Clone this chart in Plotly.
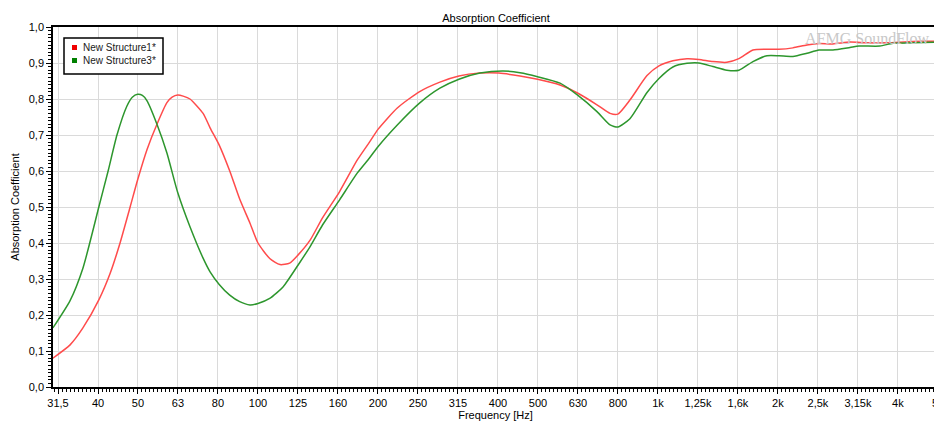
import numpy as np
import plotly.graph_objects as go

# ---------------- data ----------------
freq_s1 = [30.7, 33.9, 36.5, 40, 42.7, 45.2, 47.9, 50, 52.8, 55.9, 59.2, 61, 63, 65, 67.6, 72.9, 75.9, 80,
           85, 90, 95.5, 100, 107, 113.5, 120, 126, 135, 145, 160, 177, 190, 200, 223, 253, 285,
           318, 359, 400, 452, 500, 569, 631, 704, 759, 794, 851, 939, 1006, 1090, 1182, 1266,
           1372, 1487, 1594, 1728, 1873, 2007, 2175, 2358, 2527, 2738, 3020, 3331, 3737, 4340, 5012]
vals_s1 = [0.08, 0.117, 0.164, 0.242, 0.316, 0.40, 0.50, 0.575, 0.66, 0.73, 0.79, 0.805, 0.811, 0.808, 0.80, 0.76,
           0.72, 0.672, 0.60, 0.522, 0.455, 0.40, 0.357, 0.34, 0.344, 0.367, 0.408, 0.47, 0.543,
           0.63, 0.68, 0.717, 0.775, 0.82, 0.847, 0.864, 0.872, 0.872, 0.864, 0.855, 0.839, 0.816,
           0.784, 0.76, 0.758, 0.797, 0.865, 0.892, 0.906, 0.912, 0.91, 0.904, 0.902, 0.912, 0.936,
           0.938, 0.938, 0.942, 0.95, 0.954, 0.953, 0.958, 0.956, 0.956, 0.96, 0.96]

freq_s3 = [30.7, 33.9, 36.5, 40, 42.2, 44.4, 47.0, 48.5, 50, 51.4, 52.8, 55.9, 59.2, 63, 67.6, 72.9, 75.9, 80,
           85, 90, 95.5, 100, 107, 115.5, 126, 135, 145, 160, 177, 190, 200, 223, 253, 285, 318,
           359, 410, 452, 500, 569, 631, 704, 759, 794, 851, 939, 1006, 1090, 1182, 1266, 1372,
           1487, 1594, 1728, 1873, 2007, 2175, 2358, 2527, 2738, 3020, 3181, 3589, 3868, 4340, 5012]
vals_s3 = [0.164, 0.24, 0.33, 0.50, 0.60, 0.70, 0.78, 0.805, 0.813, 0.81, 0.795, 0.73, 0.65, 0.54, 0.445, 0.358,
           0.32, 0.285, 0.255, 0.237, 0.228, 0.232, 0.246, 0.278, 0.339, 0.39, 0.45, 0.52, 0.594,
           0.636, 0.669, 0.728, 0.788, 0.83, 0.855, 0.872, 0.878, 0.873, 0.862, 0.844, 0.81, 0.765,
           0.728, 0.722, 0.745, 0.818, 0.857, 0.889, 0.899, 0.9, 0.89, 0.88, 0.88, 0.904, 0.92,
           0.92, 0.918, 0.927, 0.936, 0.936, 0.943, 0.947, 0.947, 0.955, 0.956, 0.958]

series_names = ["New Structure1*", "New Structure3*"]

band_labels = ["31,5", "40", "50", "63", "80", "100", "125", "160", "200", "250", "315", "400",
               "500", "630", "800", "1k", "1,25k", "1,6k", "2k", "2,5k", "3,15k", "4k", "5k"]
# log10 of the nominal 1/3-octave band centres
band_exponents = [round(1.5 + 0.1 * i, 3) for i in range(len(band_labels))]

# ---------------- figure ----------------
RED = "rgb(255,75,75)"
GREEN = "rgb(45,150,45)"
FONT = "Liberation Sans, Arial, sans-serif"

fig = go.Figure()
fig.add_trace(go.Scatter(x=np.log10(freq_s1), y=vals_s1, mode="lines", name=series_names[0],
                         line=dict(color=RED, width=1.5, shape="spline", smoothing=0.6),
                         showlegend=False))
fig.add_trace(go.Scatter(x=np.log10(freq_s3), y=vals_s3, mode="lines", name=series_names[1],
                         line=dict(color=GREEN, width=1.5, shape="spline", smoothing=0.6),
                         showlegend=False))

OFF = 8                      # the page body has an 8px default margin
W, H = 942 - OFF, 421 - OFF
L, R, T, B = 53 - OFF, 4, 27 - OFF, 34
pw, ph = W - L - R, H - T - B

def px(xp):                  # page pixel x -> paper
    return (xp - OFF - L) / pw

def py(yp):                  # page pixel y -> paper
    return (T + ph - (yp - OFF)) / ph

shapes = [
    dict(type="rect", xref="paper", yref="paper", x0=px(64), x1=px(163), y0=py(74), y1=py(38),
         line=dict(color="black", width=1.5), fillcolor="white", layer="above"),
    dict(type="rect", xref="paper", yref="paper", x0=px(72), x1=px(77), y0=py(50), y1=py(45),
         line=dict(width=0), fillcolor="rgb(240,0,0)", layer="above"),
    dict(type="rect", xref="paper", yref="paper", x0=px(72), x1=px(77), y0=py(63), y1=py(58),
         line=dict(width=0), fillcolor="rgb(0,128,0)", layer="above"),
]

annotations = [
    dict(text=series_names[0], xref="paper", yref="paper", x=px(81), y=py(47.5), xanchor="left",
         yanchor="middle", showarrow=False, font=dict(family=FONT, size=10, color="#1a1a1a")),
    dict(text=series_names[1], xref="paper", yref="paper", x=px(81), y=py(60.5), xanchor="left",
         yanchor="middle", showarrow=False, font=dict(family=FONT, size=10, color="#1a1a1a")),
    dict(text="AFMG SoundFlow", xref="paper", yref="paper", x=px(867), y=py(39), xanchor="center",
         yanchor="middle", showarrow=False,
         font=dict(family="Liberation Serif, Times New Roman, serif", size=16, color="rgb(200,200,200)")),
]

fig.update_layout(
    width=W, height=H,
    margin=dict(l=L, r=R, t=T, b=B, autoexpand=False),
    paper_bgcolor="white", plot_bgcolor="white",
    separators=", ",
    title=dict(text="Absorption Coefficient", x=px(496), xanchor="center", xref="paper",
               y=1 - (18 - OFF) / H, yanchor="middle", yref="container",
               font=dict(family=FONT, size=11, color="black")),
    shapes=shapes, annotations=annotations,
    showlegend=False,
)

fig.update_xaxes(
    range=[1.4875, 3.7002], tickmode="array", tickvals=band_exponents, ticktext=band_labels,
    ticklabeloverflow="allow",
    showgrid=True, gridcolor="rgb(218,218,218)", gridwidth=1, zeroline=False,
    showline=True, linecolor="black", linewidth=1.5, mirror=True,
    ticks="outside", ticklen=5, tickcolor="black", tickwidth=1,
    minor=dict(dtick=0.01, tick0=1.5, ticks="outside", ticklen=3, tickcolor="black", showgrid=False),
    tickfont=dict(family=FONT, size=11, color="black"),
    title=dict(text="Frequency [Hz]", standoff=0, font=dict(family=FONT, size=11, color="black")),
    automargin=False,
)
fig.update_yaxes(
    range=[0, 1], tickmode="linear", tick0=0, dtick=0.1, tickformat=".1f",
    showgrid=True, gridcolor="rgb(218,218,218)", gridwidth=1, zeroline=False,
    showline=True, linecolor="black", linewidth=1.5, mirror=True,
    ticks="outside", ticklen=5, tickcolor="black", tickwidth=1,
    minor=dict(dtick=0.01, tick0=0, ticks="outside", ticklen=3, tickcolor="black", showgrid=False),
    tickfont=dict(family=FONT, size=11, color="black"),
    title=dict(text="Absorption Coefficient", standoff=7, font=dict(family=FONT, size=11, color="black")),
    automargin=False,
)

fig.write_html("out.html")
